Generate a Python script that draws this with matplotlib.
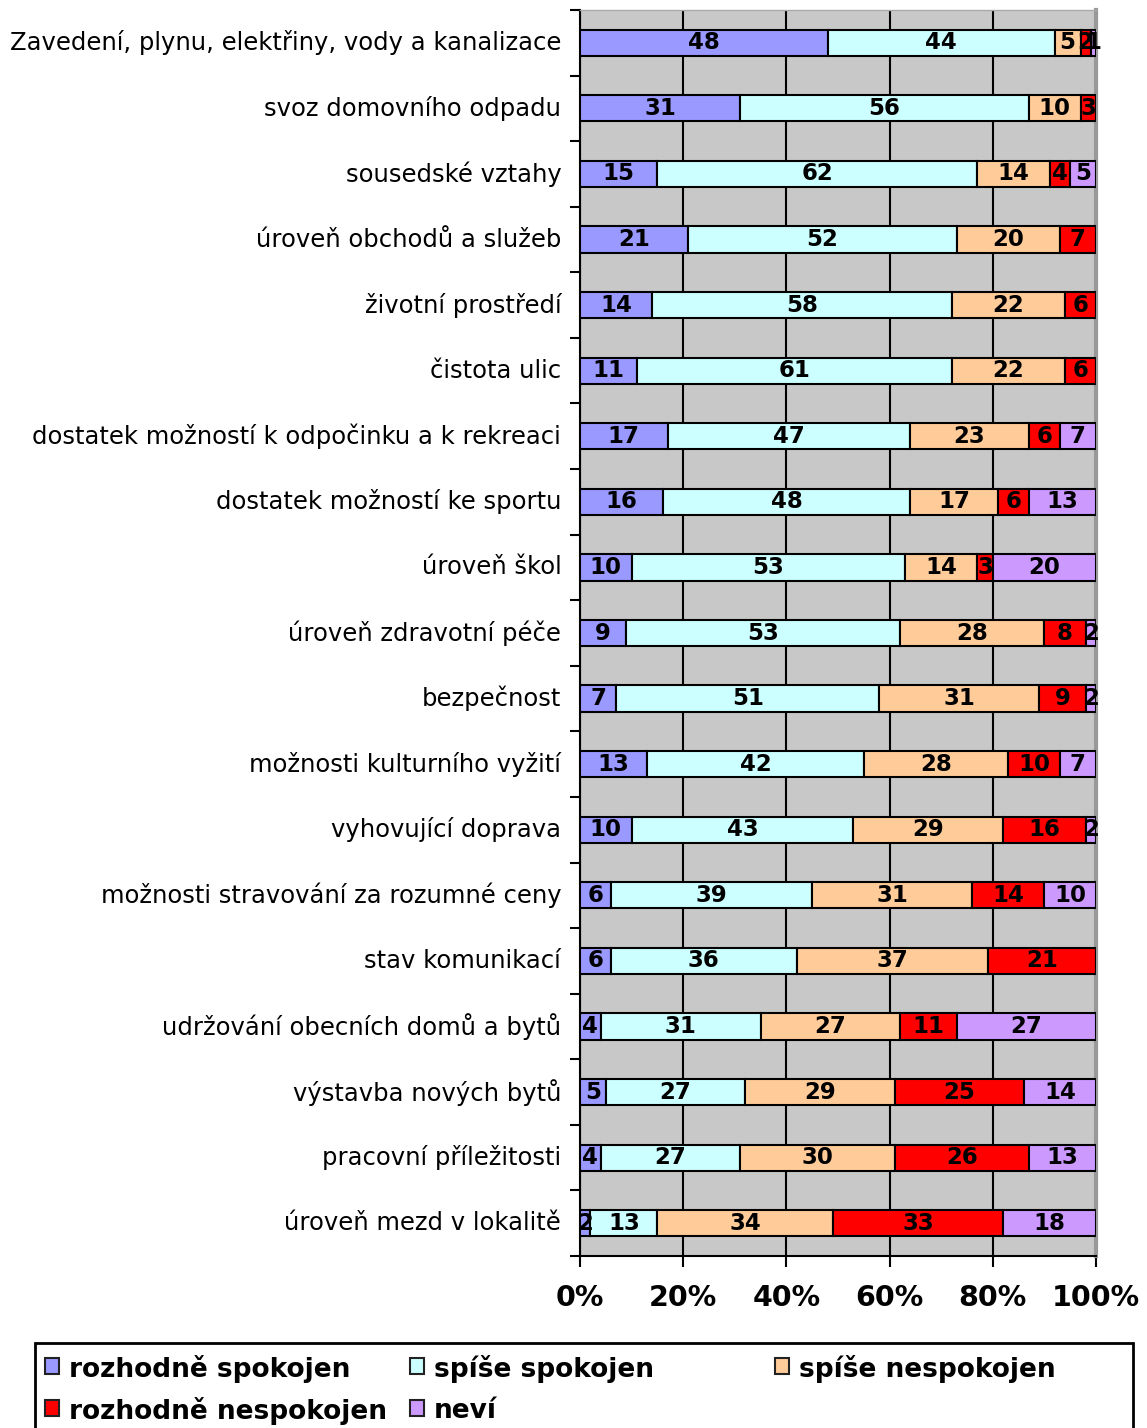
import numpy as np
import matplotlib.pyplot as plt
from matplotlib.patches import Rectangle
from matplotlib.ticker import FixedLocator

plt.rcParams['font.family'] = ['DejaVu Sans']

categories = ['Zavedení, plynu, elektřiny, vody a kanalizace',
              'svoz domovního odpadu',
              'sousedské vztahy',
              'úroveň obchodů a služeb',
              'životní prostředí',
              'čistota ulic',
              'dostatek možností k odpočinku a k rekreaci',
              'dostatek možností ke sportu',
              'úroveň škol',
              'úroveň zdravotní péče',
              'bezpečnost',
              'možnosti kulturního vyžití',
              'vyhovující doprava',
              'možnosti stravování za rozumné ceny',
              'stav komunikací',
              'udržování obecních domů a bytů',
              'výstavba nových bytů',
              'pracovní příležitosti',
              'úroveň mezd v lokalitě']

rozhodne_spokojen = [48, 31, 15, 21, 14, 11, 17, 16, 10, 9, 7, 13, 10, 6, 6, 4, 5, 4, 2]
spise_spokojen = [44, 56, 62, 52, 58, 61, 47, 48, 53, 53, 51, 42, 43, 39, 36, 31, 27, 27, 13]
spise_nespokojen = [5, 10, 14, 20, 22, 22, 23, 17, 14, 28, 31, 28, 29, 31, 37, 27, 29, 30, 34]
rozhodne_nespokojen = [2, 3, 4, 7, 6, 6, 6, 6, 3, 8, 9, 10, 16, 14, 21, 11, 25, 26, 33]
nevi = [1, 0, 5, 0, 0, 0, 7, 13, 20, 2, 2, 7, 2, 10, 0, 27, 14, 13, 18]

series_names = ['rozhodně spokojen', 'spíše spokojen', 'spíše nespokojen',
                'rozhodně nespokojen', 'neví']
series = [rozhodne_spokojen, spise_spokojen, spise_nespokojen,
          rozhodne_nespokojen, nevi]
colors = ['#9999FF', '#CCFFFF', '#FFCC99', '#FF0000', '#CC99FF']

W, H = 1147, 1428
fig = plt.figure(figsize=(W / 100, H / 100), dpi=100)
ax = fig.add_axes([580 / W, 1 - 1256 / H, 516 / W, 1246 / H])
ax.set_facecolor('#C8C8C8')

y = np.arange(len(categories))
left = np.zeros(len(categories))
for vals, col in zip(series, colors):
    vals = np.array(vals, dtype=float)
    bars = ax.barh(y, vals, left=left, height=0.4, color=col,
                   edgecolor='black', linewidth=1.5, zorder=3)
    for b, v in zip(bars, vals):
        if v > 0:
            ax.text(b.get_x() + b.get_width() / 2, b.get_y() + b.get_height() / 2,
                    '%d' % v, ha='center', va='center',
                    fontsize=16.5, fontweight='bold', zorder=4)
    left += vals

ax.set_xlim(0, 100)
ax.set_ylim(len(categories) - 0.5, -0.5)

ax.set_xticks(np.arange(0, 101, 20))
ax.set_xticklabels(['%d%%' % v for v in range(0, 101, 20)],
                   fontsize=20.5, fontweight='bold')
ax.tick_params(axis='x', length=8, width=1.5, pad=12)
ax.xaxis.grid(True, color='black', linewidth=1.5, zorder=1)
ax.set_axisbelow(True)

ax.set_yticks(y)
ax.set_yticklabels(categories, fontsize=17.5, va='center')
ax.tick_params(axis='y', which='major', length=0, pad=13.5)
ax.yaxis.set_minor_locator(FixedLocator(np.arange(-0.5, len(categories), 1)))
ax.tick_params(axis='y', which='minor', length=7, width=1.5)

ax.spines['left'].set_linewidth(1.5)
ax.spines['bottom'].set_linewidth(1.5)
ax.spines['right'].set_color('#999999')
ax.spines['right'].set_linewidth(3)
ax.spines['top'].set_color('#AAAAAA')
ax.spines['top'].set_linewidth(1)

# legend box drawn in Excel style (uniform column widths)
fig.add_artist(Rectangle((35 / W, -0.01), 1098 / W, (1428 - 1343) / H + 0.01,
                         transform=fig.transFigure, facecolor='white',
                         edgecolor='black', linewidth=2))
col_x = [45, 410, 775]
row_y = [1366, 1408]
for i, (name, col) in enumerate(zip(series_names, colors)):
    r, c = divmod(i, 3)
    x0, y0 = col_x[c], row_y[r]
    fig.add_artist(Rectangle((x0 / W, 1 - (y0 + 8) / H), 14 / W, 16 / H,
                             transform=fig.transFigure, facecolor=col,
                             edgecolor='#222222', linewidth=1.5))
    fig.text((x0 + 24) / W, 1 - y0 / H, name, fontsize=19, fontweight='bold',
             ha='left', va='center_baseline')

fig.savefig('out.png', dpi=100)
